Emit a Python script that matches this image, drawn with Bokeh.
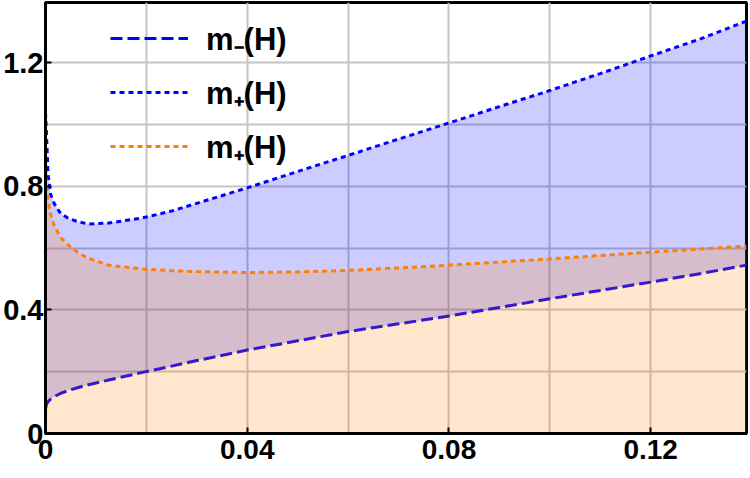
from bokeh.plotting import figure
from bokeh.models import FixedTicker, SingleIntervalTicker, Legend, LegendItem, Range1d
from bokeh.embed import file_html
from bokeh.resources import INLINE

# ---- data ----
h = [0, 0.0002, 0.0005, 0.001, 0.0017, 0.003, 0.0045, 0.0065, 0.0085, 0.0125, 0.019, 0.025,
     0.03, 0.04, 0.05, 0.06, 0.07, 0.08, 0.09, 0.10, 0.11, 0.12, 0.13, 0.139]
m_minus = [0.08, 0.095, 0.103, 0.111, 0.119, 0.13, 0.139, 0.149, 0.158, 0.173, 0.197, 0.218,
           0.236, 0.27, 0.30, 0.33, 0.355, 0.38, 0.408, 0.436, 0.463, 0.49, 0.518, 0.545]
m_plus_blue = [1.04, 0.97, 0.84, 0.775, 0.745, 0.712, 0.697, 0.685, 0.678, 0.681, 0.697, 0.72,
               0.745, 0.795, 0.848, 0.90, 0.953, 1.005, 1.058, 1.11, 1.165, 1.222, 1.278, 1.335]
m_plus_orange = [0.83, 0.80, 0.755, 0.71, 0.675, 0.635, 0.61, 0.585, 0.567, 0.545, 0.533, 0.527,
                 0.524, 0.521, 0.523, 0.528, 0.536, 0.545, 0.555, 0.565, 0.576, 0.587, 0.597, 0.607]

x_ticks = [0, 0.04, 0.08, 0.12]
x_tick_labels = ["0", "0.04", "0.08", "0.12"]
y_ticks = [0, 0.4, 0.8, 1.2]
y_tick_labels = ["0", "0.4", "0.8", "1.2"]
legend_labels = ["m\u208b(H)", "m\u208a(H)", "m\u208a(H)"]

BLUE = "#0000ff"
ORANGE = "#ff8000"
FONT = "Liberation Sans"

p = figure(width=750, height=478, output_backend="svg", toolbar_location=None,
           x_range=Range1d(0, 0.139), y_range=Range1d(0, 1.395),
           min_border_left=45, min_border_right=4, min_border_top=2, min_border_bottom=45)

p.background_fill_color = "white"
p.border_fill_color = "white"
p.outline_line_color = "black"
p.outline_line_width = 3

# grids
p.xgrid.ticker = SingleIntervalTicker(interval=0.02)
p.ygrid.ticker = SingleIntervalTicker(interval=0.2)
for g in (p.xgrid, p.ygrid):
    g.grid_line_color = "#c4c4c4"
    g.grid_line_width = 2

# axes
p.xaxis.ticker = FixedTicker(ticks=x_ticks)
p.xaxis.major_label_overrides = {t: l for t, l in zip(x_ticks, x_tick_labels)}
p.yaxis.ticker = FixedTicker(ticks=y_ticks)
p.yaxis.major_label_overrides = {t: l for t, l in zip(y_ticks, y_tick_labels)}
for ax in (p.xaxis, p.yaxis):
    ax.axis_line_color = "black"
    ax.axis_line_width = 3
    ax.major_tick_in = 6
    ax.major_tick_out = 0
    ax.major_tick_line_width = 2
    ax.major_tick_line_color = "black"
    ax.minor_tick_line_color = None
    ax.major_label_text_font = FONT
    ax.major_label_text_font_style = "bold"
    ax.major_label_text_color = "black"
p.xaxis.major_label_text_font_size = "28px"
p.yaxis.major_label_text_font_size = "29px"
p.xaxis.major_label_standoff = 6
p.yaxis.major_label_standoff = 2

# fills and lines
p.varea(x=h, y1=m_minus, y2=m_plus_blue, fill_color=BLUE, fill_alpha=0.2)
r_minus = p.line(h, m_minus, line_color=BLUE, line_width=3, line_dash="12 5")
r_plus = p.line(h, m_plus_blue, line_color=BLUE, line_width=3, line_dash="5 4")
p.varea(x=h, y1=0, y2=m_plus_orange, fill_color=ORANGE, fill_alpha=0.2)
r_orange = p.line(h, m_plus_orange, line_color=ORANGE, line_width=3, line_dash="5 4")

legend = Legend(items=[LegendItem(label=legend_labels[0], renderers=[r_minus]),
                       LegendItem(label=legend_labels[1], renderers=[r_plus]),
                       LegendItem(label=legend_labels[2], renderers=[r_orange])],
                location=(65, 266))
legend.glyph_width = 78
legend.glyph_height = 40
legend.spacing = 12
legend.padding = 0
legend.margin = 0
legend.label_standoff = 18
legend.label_text_font = FONT
legend.label_text_font_style = "bold"
legend.label_text_font_size = "31px"
legend.label_text_color = "black"
legend.background_fill_alpha = 0
legend.border_line_alpha = 0
p.add_layout(legend)

open("out.html", "w").write(file_html(p, INLINE))
